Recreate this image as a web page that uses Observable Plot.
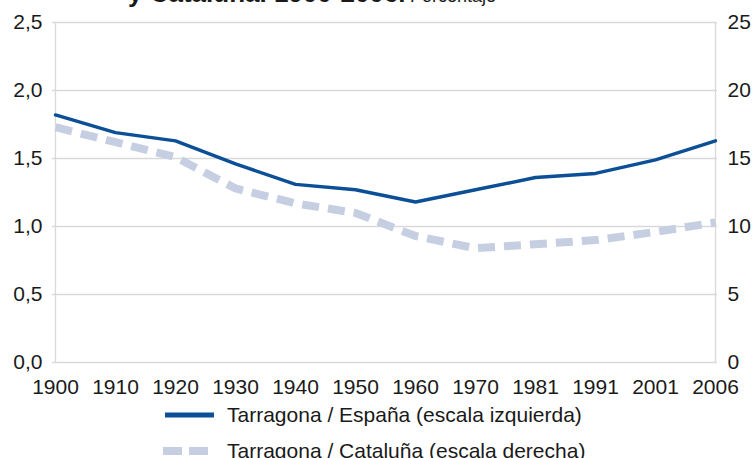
<!DOCTYPE html>
<html>
<head>
<meta charset="utf-8">
<script src="https://cdn.jsdelivr.net/npm/d3@7"></script>
<script src="https://cdn.jsdelivr.net/npm/@observablehq/plot@0.6"></script>
<style>
  html, body { margin: 0; padding: 0; background: #fff; overflow: hidden; }
  body { width: 755px; height: 458px; position: relative; font-family: "Liberation Sans", Arial, sans-serif; }
  #title { position: absolute; left: 128px; top: -22px; white-space: nowrap; color: #1a1a1a; }
  #title b { font-size: 26px; }
  #title span { font-size: 18px; }
  #chart { position: absolute; left: 0; top: 0; }
  .leg { position: absolute; left: 163px; font-size: 21px; color: #1a1a1a; display: flex; align-items: center; white-space: nowrap; }
  .leg svg { margin-right: 12px; }
</style>
</head>
<body>
<div id="title"><b>y Cataluña. 1900-2006.</b> <span>Porcentaje</span></div>
<div id="chart"></div>
<div class="leg" style="top:403px"><svg width="52" height="10"><line x1="2" x2="51" y1="5" y2="5" stroke="#0b4f96" stroke-width="5"/></svg>Tarragona / España (escala izquierda)</div>
<div class="leg" style="top:439px"><svg width="52" height="10"><line x1="0" x2="52" y1="5" y2="5" stroke="#c6cfe2" stroke-width="8" stroke-dasharray="19,7"/></svg>Tarragona / Cataluña (escala derecha)</div>
<script>
const years = ["1900","1910","1920","1930","1940","1950","1960","1970","1981","1991","2001","2006"];
const espana = [1.82, 1.69, 1.63, 1.46, 1.31, 1.27, 1.18, 1.27, 1.36, 1.39, 1.49, 1.63];
const cataluna = [17.3, 16.2, 15.1, 12.8, 11.7, 11.0, 9.3, 8.4, 8.7, 9.0, 9.6, 10.3];
const leftTicks = [0, 0.5, 1, 1.5, 2, 2.5];
const rightTicks = [0, 5, 10, 15, 20, 25];

const dataE = years.map((y, i) => ({year: y, v: espana[i]}));
const dataC = years.map((y, i) => ({year: y, v: cataluna[i] / 10}));
const fmt = d => d.toFixed(1).replace(".", ",");

const chart = Plot.plot({
  width: 755,
  height: 400,
  marginTop: 22,
  marginLeft: 52,
  marginRight: 38,
  marginBottom: 38,
  style: {fontFamily: "Liberation Sans, Arial, sans-serif", fontSize: "21px", color: "#1a1a1a", background: "transparent"},
  x: {type: "point", domain: years, padding: 0},
  y: {domain: [0, 2.5]},
  marks: [
    Plot.ruleY(leftTicks, {stroke: "#d9d9d9", strokeWidth: 1.3, strokeOpacity: 1}),
    Plot.ruleX([years[0], years[years.length - 1]], {stroke: "#d9d9d9", strokeWidth: 1.3}),
    Plot.axisY(leftTicks, {anchor: "left", tickSize: 0, tickPadding: 10, tickFormat: fmt, label: null}),
    Plot.axisY(rightTicks.map(d => d / 10), {anchor: "right", tickSize: 0, tickPadding: 10, tickFormat: d => String(Math.round(d * 10)), label: null}),
    Plot.axisX({tickSize: 0, tickPadding: 17, label: null}),
    Plot.line(dataC, {x: "year", y: "v", stroke: "#c6cfe2", strokeWidth: 8, strokeDasharray: "17,9", strokeLinecap: "butt", strokeLinejoin: "miter"}),
    Plot.line(dataE, {x: "year", y: "v", stroke: "#0b4f96", strokeWidth: 3.4})
  ]
});
document.getElementById("chart").appendChild(chart);
</script>
</body>
</html>
